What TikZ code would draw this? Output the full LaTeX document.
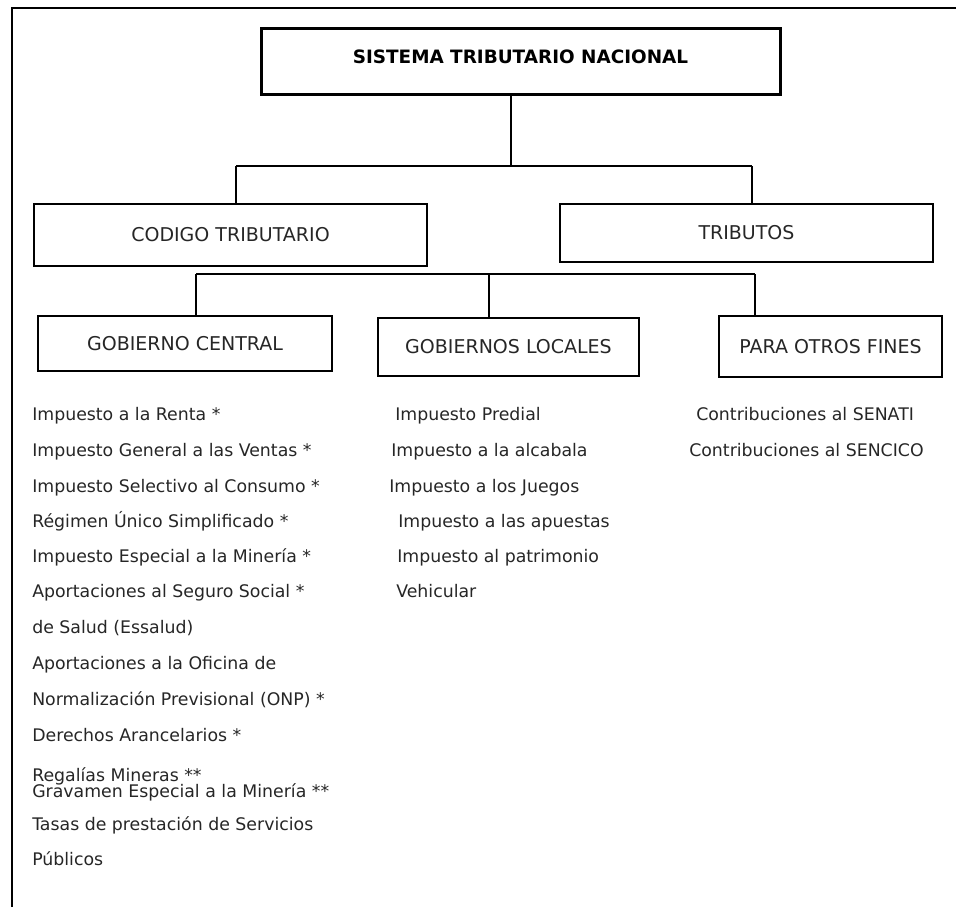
\documentclass[tikz,border=0pt]{standalone}
\usepackage{fontspec}
\setmainfont{DejaVu Sans}
\definecolor{textc}{RGB}{38,38,38}
\begin{document}
\begin{tikzpicture}[x=0.75pt,y=-0.75pt,
  box/.style={draw=black, line width=1.5pt, inner sep=0pt, outer sep=0pt,
    font=\fontsize{14.25}{17}\selectfont, text=textc},
  titlebox/.style={box, line width=2.25pt, font=\fontsize{13.8}{16}\selectfont\bfseries, text=black, text depth=6pt},
  item/.style={anchor=base west, inner sep=0pt, font=\fontsize{13}{15}\selectfont, text=textc},
  itempair/.style={anchor=west, inner sep=0pt, align=left, text=textc,
    font=\fontsize{13}{15}\selectfont},
  wire/.style={line width=1.1pt},
  framestyle/.style={line width=1.9pt}]
\useasboundingbox (0,0) rectangle (956,907);
% outer frame
\draw[framestyle] (12,907) -- (12,8) -- (956,8);
% boxes
\node[titlebox, minimum width=389.25pt, minimum height=49.5pt] (title) at (520.5,61) {SISTEMA TRIBUTARIO NACIONAL};
\node[box, minimum width=294.75pt, minimum height=46.5pt] (cod) at (230.5,235) {CODIGO TRIBUTARIO};
\node[box, minimum width=279.75pt, minimum height=43.5pt] (trib) at (746.5,233) {TRIBUTOS};
\node[box, minimum width=220.5pt, minimum height=41.25pt] (gc) at (185,343.5) {GOBIERNO CENTRAL};
\node[box, minimum width=195.75pt, minimum height=43.5pt] (gl) at (508.5,347) {GOBIERNOS LOCALES};
\node[box, minimum width=167.25pt, minimum height=45.75pt] (para) at (830.5,346.5) {PARA OTROS FINES};
% upper connectors
\coordinate (j1) at (511,166);
\coordinate (hL) at (236,166);
\coordinate (hR) at (752,166);
\draw[wire] (title.south -| j1) -- (j1);
\draw[wire] (hL) -- (hR);
\draw[wire] (hL) -- (hL |- cod.north);
\draw[wire] (hR) -- (hR |- trib.north);
% lower connectors
\coordinate (lL) at (196,274);
\coordinate (lM) at (489,274);
\coordinate (lR) at (755,274);
\draw[wire] (lL) -- (lR);
\draw[wire] (lL) -- (lL |- gc.north);
\draw[wire] (lM) -- (lM |- gl.north);
\draw[wire] (lR) -- (lR |- para.north);
% Gobierno central list
\node[item] (gc1) at (32,420) {Impuesto a la Renta *};
\node[item] (gc2) at (32,456) {Impuesto General a las Ventas *};
\node[item] (gc3) at (32,492) {Impuesto Selectivo al Consumo *};
\node[item] (gc4) at (32,527) {Régimen Único Simplificado *};
\node[item] (gc5) at (32,562) {Impuesto Especial a la Minería *};
\node[item] (gc6) at (32,597) {Aportaciones al Seguro Social *};
\node[item] (gc7) at (32,633) {de Salud (Essalud)};
\node[item] (gc8) at (32,669) {Aportaciones a la Oficina de};
\node[item] (gc9) at (32,705) {Normalización Previsional (ONP) *};
\node[item] (gc10) at (32,741) {Derechos Arancelarios *};
\node[itempair] (gc11) at (32,784) {Regalías Mineras **\\[-3pt]Gravamen Especial a la Minería **};
\node[item] (gc13) at (32,830) {Tasas de prestación de Servicios};
\node[item] (gc14) at (32,865) {Públicos};
% Gobiernos locales list
\node[item] (gl1) at (395,420) {Impuesto Predial};
\node[item] (gl2) at (391,456) {Impuesto a la alcabala};
\node[item] (gl3) at (389,492) {Impuesto a los Juegos};
\node[item] (gl4) at (398,527) {Impuesto a las apuestas};
\node[item] (gl5) at (397,562) {Impuesto al patrimonio};
\node[item] (gl6) at (396,597) {Vehicular};
% Para otros fines list
\node[item] (pf1) at (696,420) {Contribuciones al SENATI};
\node[item] (pf2) at (689,456) {Contribuciones al SENCICO};
\end{tikzpicture}
\end{document}
